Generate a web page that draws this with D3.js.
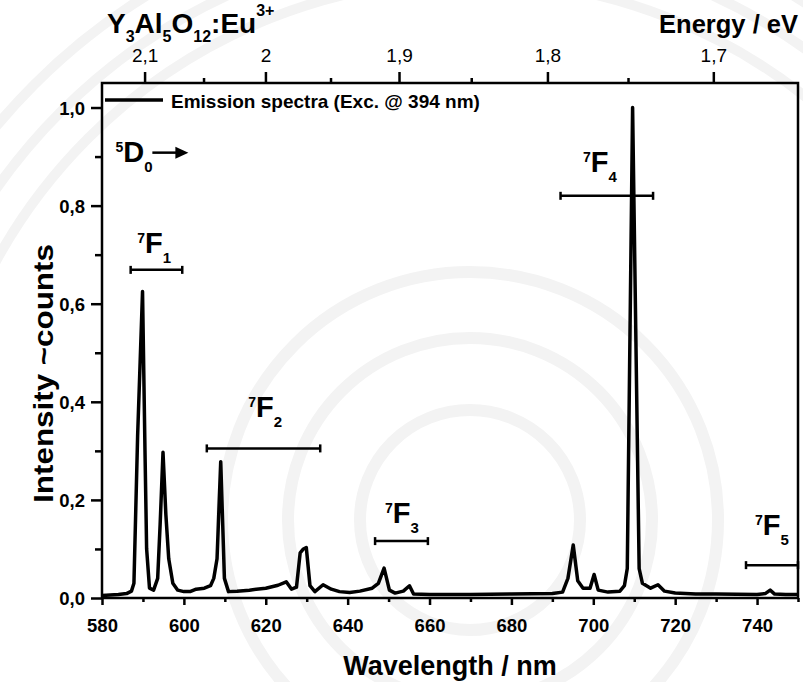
<!DOCTYPE html>
<html>
<head>
<meta charset="utf-8">
<script src="https://cdn.jsdelivr.net/npm/d3@7"></script>
<style>
  body { margin: 0; background: #fff; }
  text { font-family: "Liberation Sans", Arial, sans-serif; fill: #000; }
</style>
</head>
<body>
<div id="chart"></div>
<script>
var width = 803, height = 682,
    plotLeft = 102, plotRight = 798, plotTop = 83, plotBottom = 598,
    hc = 1239.84;

// Eu3+ emission, excitation at 394 nm (normalised counts)
var wavelength = [580, 582, 584, 586, 587.2, 587.8, 588.7, 589.9, 590.5, 590.9, 591.6, 592.6, 593.6, 594.2, 594.9, 595.6, 596.3, 597.3, 598.5, 600,
  601.5, 603, 605, 606.5, 607.3, 608.1, 609.0, 609.9, 610.9, 613, 616, 620, 623, 625, 626.3, 627.5, 628.4, 629.2, 629.9, 630.8,
  632, 634, 636, 638, 640.5, 643, 646, 647.5, 648.9, 650.2, 651.6, 653.6, 655.1, 656.1, 660, 670, 680, 690, 692.5, 693.8,
  695.1, 696.2, 697.5, 699.2, 700.2, 701.2, 703.6, 706.5, 707.6, 708.3, 709.6, 711.2, 712, 714, 715.8, 717.4, 720, 725, 730, 740,
  742, 743.2, 744.3, 747, 750];
var intensity = [0.005, 0.006, 0.007, 0.009, 0.014, 0.03, 0.33, 0.625, 0.3, 0.1, 0.02, 0.016, 0.04, 0.15, 0.297, 0.17, 0.08, 0.03, 0.016, 0.013,
  0.013, 0.018, 0.02, 0.025, 0.04, 0.08, 0.278, 0.04, 0.013, 0.014, 0.016, 0.02, 0.026, 0.033, 0.018, 0.022, 0.092, 0.1, 0.103, 0.025,
  0.013, 0.027, 0.018, 0.013, 0.011, 0.014, 0.02, 0.03, 0.061, 0.016, 0.01, 0.014, 0.025, 0.008, 0.007, 0.007, 0.008, 0.009, 0.012, 0.04,
  0.108, 0.035, 0.02, 0.02, 0.048, 0.016, 0.012, 0.014, 0.025, 0.06, 1.0, 0.06, 0.03, 0.02, 0.027, 0.014, 0.01, 0.008, 0.008, 0.007,
  0.009, 0.016, 0.008, 0.007, 0.007];

// 5D0 -> 7FJ manifolds
var bandJ = ["1", "2", "3", "4", "5"];
var bandFrom = [587, 605.6, 646.7, 692, 737.3];
var bandTo = [599.6, 633.3, 659.6, 714.6, 750];
var bandLevel = [0.669, 0.305, 0.116, 0.82, 0.067];
var labelNm = [588.6, 615.7, 649.1, 697.5, 739.5];
var labelLevel = [0.704, 0.369, 0.153, 0.869, 0.129];

var xMajor = [580, 600, 620, 640, 660, 680, 700, 720, 740];
var xMinor = [590, 610, 630, 650, 670, 690, 710, 730, 750];
var yMajor = [0, 0.2, 0.4, 0.6, 0.8, 1.0];
var yMinor = [0.1, 0.3, 0.5, 0.7, 0.9];
var eMajor = [2.1, 2, 1.9, 1.8, 1.7];
var eMinor = [2.05, 1.95, 1.85, 1.75];

var comma = d3.formatLocale({decimal: ",", thousands: ".", grouping: [3], currency: ["", ""]});

var x = d3.scaleLinear().domain([580, 750]).range([plotLeft, plotRight]);
var y = d3.scaleLinear().domain([0, 1.05]).range([plotBottom, plotTop]);

var svg = d3.select("#chart").append("svg")
    .attr("width", width)
    .attr("height", height);

svg.append("rect").attr("width", width).attr("height", height).attr("fill", "#fff");

// faint seal in the background
var rings = [110, 182, 248, 540, 578, 616];
svg.append("g").selectAll("circle")
    .data(rings)
  .enter().append("circle")
    .attr("cx", 470).attr("cy", 520)
    .attr("r", function(d){ return d; })
    .attr("fill", "none")
    .attr("stroke", "#f3f3f3")
    .attr("stroke-width", function(d, i){ return i < 3 ? 12 : 10; });

function styleAxis(g) {
  g.select(".domain").remove();
  g.selectAll("line").attr("stroke", "#000").attr("stroke-width", 2.5);
}

// bottom axis
svg.append("g")
    .attr("transform", "translate(0," + plotBottom + ")")
    .call(d3.axisBottom(x).tickValues(xMinor).tickSize(4).tickFormat(""))
    .call(styleAxis);
svg.append("g")
    .attr("transform", "translate(0," + plotBottom + ")")
    .call(d3.axisBottom(x).tickValues(xMajor).tickSize(7).tickFormat(d3.format("d")))
    .call(styleAxis)
    .call(function(g) {
      g.selectAll("text").attr("y", 34).attr("dy", null)
        .attr("font-size", 18.5).attr("font-weight", "bold");
    });

// left axis
svg.append("g")
    .attr("transform", "translate(" + plotLeft + ",0)")
    .call(d3.axisLeft(y).tickValues(yMinor).tickSize(7).tickFormat(""))
    .call(styleAxis);
svg.append("g")
    .attr("transform", "translate(" + plotLeft + ",0)")
    .call(d3.axisLeft(y).tickValues(yMajor).tickSize(11).tickFormat(comma.format(".1f")))
    .call(styleAxis)
    .call(function(g) {
      g.selectAll("text").attr("x", -17).attr("dy", "0.36em")
        .attr("font-size", 18.5).attr("font-weight", "bold");
    });

// top axis: photon energy, E = hc / lambda
var eFormat = comma.format(".1~f");
svg.append("g")
    .attr("transform", "translate(0," + plotTop + ")")
    .call(d3.axisTop(x).tickValues(eMinor.map(function(e){ return hc / e; })).tickSize(5).tickFormat(""))
    .call(styleAxis);
svg.append("g")
    .attr("transform", "translate(0," + plotTop + ")")
    .call(d3.axisTop(x).tickValues(eMajor.map(function(e){ return hc / e; })).tickSize(11)
      .tickFormat(function(d){ return eFormat(hc / d); }))
    .call(styleAxis)
    .call(function(g) {
      g.selectAll("text").attr("y", -21).attr("dy", null)
        .attr("font-size", 19).attr("font-weight", "normal");
    });

// frame
svg.append("rect")
    .attr("x", plotLeft).attr("y", plotTop)
    .attr("width", plotRight - plotLeft).attr("height", plotBottom - plotTop)
    .attr("fill", "none").attr("stroke", "#000").attr("stroke-width", 2.5);

svg.append("clipPath").attr("id", "plot")
  .append("rect").attr("x", plotLeft).attr("y", plotTop)
    .attr("width", plotRight - plotLeft).attr("height", plotBottom - plotTop);

// spectrum
var line = d3.line()
    .x(function(d){ return x(d); })
    .y(function(d, i){ return y(intensity[i]); });

svg.append("path")
    .datum(wavelength)
    .attr("clip-path", "url(#plot)")
    .attr("d", line)
    .attr("fill", "none")
    .attr("stroke", "#000")
    .attr("stroke-width", 3.5)
    .attr("stroke-linejoin", "round");

// manifold brackets
var brackets = svg.append("g").attr("stroke", "#000").attr("stroke-width", 2.5);
bandJ.forEach(function(j, i) {
  var yy = y(bandLevel[i]), x0 = x(bandFrom[i]), x1 = x(bandTo[i]);
  brackets.append("line").attr("x1", x0).attr("x2", x1).attr("y1", yy).attr("y2", yy);
  brackets.append("line").attr("x1", x0).attr("x2", x0).attr("y1", yy - 4).attr("y2", yy + 4);
  brackets.append("line").attr("x1", x1).attr("x2", x1).attr("y1", yy - 4).attr("y2", yy + 4);
});

function term(px, py, sup, main, sub) {
  var t = svg.append("text").attr("x", px).attr("y", py).attr("font-weight", "bold");
  t.append("tspan").attr("font-size", 14).attr("dy", -10).text(sup);
  t.append("tspan").attr("font-size", 29).attr("dy", 10).text(main);
  t.append("tspan").attr("font-size", 15).attr("dy", 10).text(sub);
}

bandJ.forEach(function(j, i) {
  term(x(labelNm[i]), y(labelLevel[i]), "7", "F", j);
});

// initial level with arrow
term(x(583.3), y(0.888), "5", "D", "0");
var ay = y(0.908);
svg.append("line")
    .attr("x1", x(592.3)).attr("x2", x(598.5))
    .attr("y1", ay).attr("y2", ay)
    .attr("stroke", "#000").attr("stroke-width", 2.5);
svg.append("path")
    .attr("d", "M" + x(601.1) + "," + ay + "l-13,-6v12z")
    .attr("fill", "#000");

// legend
svg.append("line")
    .attr("x1", plotLeft + 3).attr("x2", plotLeft + 61)
    .attr("y1", 100).attr("y2", 100)
    .attr("stroke", "#000").attr("stroke-width", 3.5);
svg.append("text")
    .attr("x", plotLeft + 69).attr("y", 108)
    .attr("font-size", 19).attr("font-weight", "bold")
    .text("Emission spectra (Exc. @ 394 nm)");

// sample name
var title = svg.append("text").attr("x", 107).attr("y", 33).attr("font-weight", "bold").attr("font-size", 28);
title.append("tspan").text("Y");
title.append("tspan").attr("font-size", 16).attr("dy", 9).text("3");
title.append("tspan").attr("dy", -9).text("Al");
title.append("tspan").attr("font-size", 16).attr("dy", 9).text("5");
title.append("tspan").attr("dy", -9).text("O");
title.append("tspan").attr("font-size", 16).attr("dy", 9).text("12");
title.append("tspan").attr("dy", -9).text(":Eu");
title.append("tspan").attr("font-size", 16).attr("dy", -17).text("3+");

// axis titles
svg.append("text")
    .attr("x", plotRight).attr("y", 33)
    .attr("text-anchor", "end")
    .attr("font-size", 25.5).attr("font-weight", "bold")
    .text("Energy / eV");

svg.append("text")
    .attr("x", (plotLeft + plotRight) / 2).attr("y", 675)
    .attr("text-anchor", "middle")
    .attr("font-size", 27).attr("font-weight", "bold")
    .text("Wavelength / nm");

svg.append("text")
    .attr("transform", "translate(53," + ((plotTop + plotBottom) / 2 + 33) + ") rotate(-90) scale(1.12,1)")
    .attr("text-anchor", "middle")
    .attr("font-size", 28).attr("font-weight", "bold")
    .text("Intensity ~counts");
</script>
</body>
</html>
